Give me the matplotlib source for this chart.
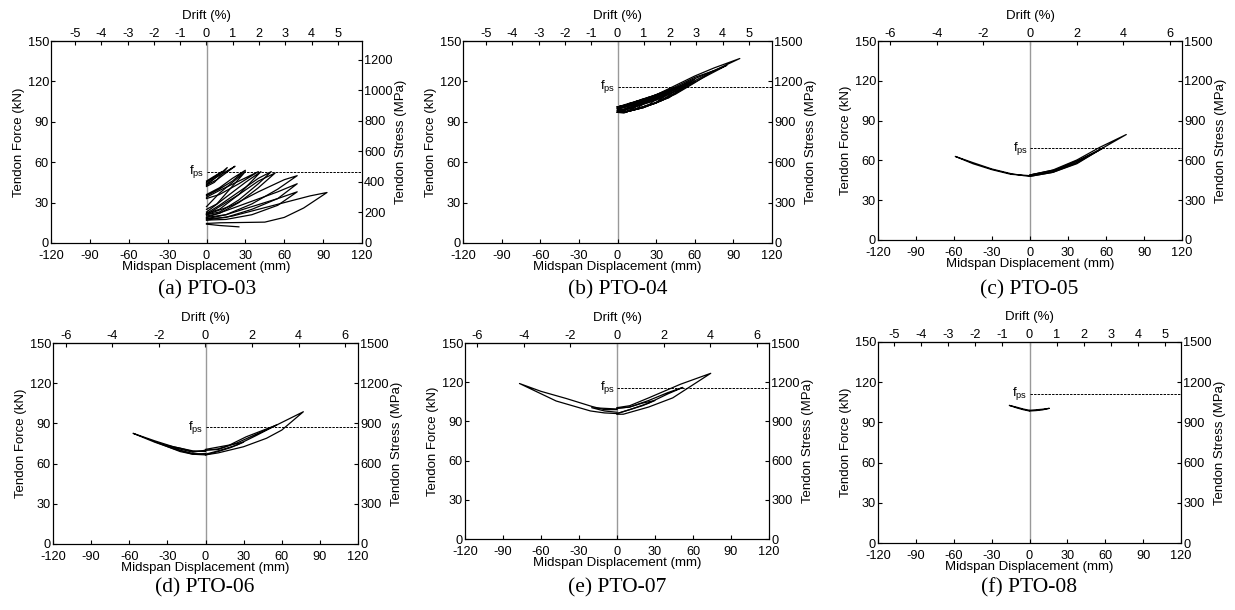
import matplotlib
matplotlib.use("Agg")
import matplotlib.pyplot as plt
import numpy as np

plt.rcParams['font.family'] = ['Liberation Sans', 'DejaVu Sans']
plt.rcParams['mathtext.fontset'] = 'custom'
plt.rcParams['mathtext.rm'] = 'Liberation Sans'
plt.rcParams['axes.unicode_minus'] = False

# ---------------- data (mm, kN) ----------------
captions = ["(a) PTO-03", "(b) PTO-04", "(c) PTO-05", "(d) PTO-06", "(e) PTO-07", "(f) PTO-08"]
fps_kN = [53, 116, 69, 87.3, 115.6, 111.3]
mm_per_drift = [20.3, 20.4, 18.4, 18.3, 18.4, 21.5]
stress_factor = [8.83, 10, 10, 10, 10, 10]
stress_ticks = [[0, 200, 400, 600, 800, 1000, 1200],
                [0, 300, 600, 900, 1200, 1500],
                [0, 300, 600, 900, 1200, 1500],
                [0, 300, 600, 900, 1200, 1500],
                [0, 300, 600, 900, 1200, 1500],
                [0, 300, 600, 900, 1200, 1500]]
drift_ticks = [[-5, -4, -3, -2, -1, 0, 1, 2, 3, 4, 5],
               [-5, -4, -3, -2, -1, 0, 1, 2, 3, 4, 5],
               [-6, -4, -2, 0, 2, 4, 6],
               [-6, -4, -2, 0, 2, 4, 6],
               [-6, -4, -2, 0, 2, 4, 6],
               [-5, -4, -3, -2, -1, 0, 1, 2, 3, 4, 5]]
disp_ticks = [-120, -90, -60, -30, 0, 30, 60, 90, 120]
force_ticks = [0, 30, 60, 90, 120, 150]

pto03_x = [
    [0, 10, 25],
    [0, 10, 25, 45, 60, 75, 93, 80, 60, 40, 20, 0],
    [0, 15, 35, 55, 70, 55, 35, 15, 0],
    [0, 15, 35, 55, 70, 55, 35, 15, 0],
    [0, 15, 35, 55, 70, 60, 40, 20, 0],
    [0, 10, 25, 40, 53, 40, 25, 10, 0],
    [0, 10, 25, 40, 50, 40, 25, 10, 0],
    [0, 10, 25, 35, 42, 30, 15, 0],
    [0, 8, 18, 30, 20, 10, 0],
    [0, 10, 25, 40, 25, 10, 0],
    [0, 10, 20, 30, 20, 10, 0],
    [0, 8, 15, 22, 15, 8, 0],
    [0, 6, 11, 16, 10, 5, 0],
    [0, 5, 12, 5, 0],
]
pto03_y = [
    [14, 13, 12],
    [14.5, 15, 15.2, 15.5, 19, 26, 37.5, 35, 30, 25, 20, 17],
    [17, 17.5, 21, 28, 38, 33, 27, 21, 18],
    [18, 19, 25, 33, 44, 38, 31, 24, 19],
    [19, 21, 29, 40, 50, 47, 38, 28, 21],
    [20, 22, 30, 41, 52, 46, 36, 27, 21],
    [21, 23, 32, 44, 53, 48, 38, 28, 22],
    [22, 25, 36, 46, 53, 45, 34, 23],
    [25, 29, 40, 53, 45, 37, 27],
    [33, 36, 44, 53, 46, 39, 34],
    [35, 40, 46, 54, 48, 41, 36],
    [43, 47, 52, 57, 53, 49, 44],
    [42, 45, 50, 56, 51, 47, 43],
    [45, 48, 53, 49, 46],
]

pto04_x = [
    [0, 5, 10, 5, 0],
    [0, 5, 10, 15, 10, 5, 0],
    [0, 5, 10, 20, 10, 5, 0],
    [0, 5, 12, 25, 15, 5, 0],
    [0, 5, 15, 30, 20, 10, 0],
    [0, 5, 15, 25, 35, 25, 15, 5, 0],
    [0, 5, 15, 30, 40, 30, 20, 10, 0],
    [0, 5, 15, 30, 45, 30, 15, 5, 0],
    [0, 5, 20, 35, 50, 35, 20, 5, 0],
    [0, 5, 20, 40, 55, 40, 20, 5, 0],
    [0, 5, 20, 40, 60, 45, 30, 15, 0],
    [0, 5, 15, 30, 45, 60, 75, 60, 45, 30, 15, 0],
    [0, 5, 15, 30, 45, 60, 75, 85, 70, 55, 40, 25, 10, 0],
    [0, 5, 15, 30, 45, 60, 75, 95, 75, 60, 45, 30, 15, 0],
    [0, 5, 15, 30, 45, 60, 45, 30, 15, 5, 0],
    [0, 5, 15, 30, 45, 55, 45, 30, 15, 5, 0],
    [0, 5, 15, 30, 45, 30, 15, 5, 0],
    [0, 5, 15, 30, 40, 30, 15, 5, 0],
    [0, 5, 15, 25, 35, 25, 15, 5, 0],
    [0, 5, 15, 30, 15, 5, 0],
    [0, 5, 15, 25, 15, 5, 0],
    [0, 5, 10, 20, 10, 5, 0],
]
pto04_y = [
    [97.5, 97, 104, 101, 100],
    [97.5, 97, 99, 105.5, 103, 101.5, 100.5],
    [97, 96.5, 98.5, 107, 103.5, 102, 101],
    [97, 97, 99.5, 108.5, 105, 102, 101],
    [97, 97, 100, 109.5, 106.5, 103.5, 101],
    [97, 97, 99.5, 103, 111, 108, 105, 102, 101],
    [97, 97, 99.5, 104, 113, 109.5, 106.5, 104, 101],
    [97, 97, 99.5, 104, 115, 110, 105, 102, 101],
    [97, 97, 100.5, 106, 117, 112, 106.5, 102, 101],
    [97, 97, 100.5, 108, 119, 113, 107, 102, 101],
    [97, 97, 100.5, 108, 121.5, 115, 109.5, 104.5, 101],
    [97, 97, 99.5, 104, 110.5, 119, 128, 123, 116, 110, 104, 101],
    [97, 97, 99.5, 104, 111, 119.5, 127, 132, 126, 120, 112, 106, 102, 101],
    [97, 97, 99.5, 104.5, 111.5, 120.5, 128, 137, 130, 124, 117, 110, 104, 101],
    [98, 98.5, 101.5, 106, 112.5, 120, 114, 107.5, 103, 100.5, 99.5],
    [98, 98.5, 101.5, 106.5, 113, 118, 114.5, 108, 103.5, 101, 100],
    [98.5, 99, 102, 107, 114, 109, 104, 101.5, 100],
    [98.5, 99, 102.5, 107.5, 112, 108.5, 104.5, 101, 100],
    [98.5, 99, 102.5, 106, 110, 107, 104, 101, 100],
    [98, 98.5, 102, 108.5, 104.5, 101, 99.5],
    [99, 99.5, 102.5, 107, 104, 101.5, 100],
    [98.5, 99, 100.5, 105, 102.5, 101, 100],
]

pto05_x = [
    [0, -15, -30, -45, -59, -45, -30, -15, -5, 0],
    [0, 18, 37, 55, 40, 20, 0],
    [0, 18, 37, 58, 40, 20, 0],
    [0, 18, 37, 55, 76, 55, 37, 18, 0],
]
pto05_y = [
    [48.5, 49.5, 53, 57.5, 63, 58.3, 53.5, 50, 48.5, 48],
    [48.5, 51.5, 58.5, 68, 61, 53, 49],
    [48, 51, 58, 69.5, 60.5, 52.5, 49],
    [48, 51, 57.5, 68, 79.5, 69.8, 60.3, 52.7, 49],
]

pto06_x = [
    [0, -10, -25, -40, -57, -40, -25, -10, 0],
    [0, -10, -20, -30, -20, -10, 0],
    [0, -10, -20, -40, -25, -10, 0],
    [0, 10, 20, 30, 20, 10, 0],
    [0, 10, 25, 40, 56, 40, 25, 10, 0],
    [0, 10, 30, 48, 60, 77, 56, 32, 19, 0],
]
pto06_y = [
    [67.5, 67, 71, 76, 82.6, 77, 72.5, 69.5, 69],
    [67, 67.5, 70, 73.5, 71.5, 69, 69.5],
    [66.5, 67, 69, 76.4, 72, 68.5, 70],
    [66.5, 69, 72, 76, 74, 70.5, 70],
    [67, 69.5, 74, 81, 88.8, 82, 75.5, 71, 70],
    [66.5, 68, 72.6, 78.9, 85, 98.7, 88.8, 80, 73.9, 70.6],
]

pto07_x = [
    [0, -10, -21, -48, -77, -60, -40, -20, -10, 0],
    [0, -10, -20, -10, 0],
    [0, 10, 20, 30, 20, 10, 0],
    [0, 5, 25, 44, 74, 50, 25, 10, 0],
    [0, 10, 25, 40, 52, 40, 25, 10, 0],
]
pto07_y = [
    [96, 96.5, 98, 105.6, 119, 113, 107.5, 101.5, 99, 99],
    [97, 98, 100.5, 100, 99.5],
    [96, 99, 102, 106, 104, 101, 100],
    [95.5, 95.5, 101, 108, 126.8, 118.4, 108, 102, 100.5],
    [96, 99, 104, 111, 116, 112, 106, 101, 100],
]

pto08_x = [
    [0, -5, -10, -16, -10, -5, 0],
    [0, 5, 10, 15.7, 10, 5, 0],
]
pto08_y = [
    [98.5, 99.5, 100.8, 102.7, 101.3, 100, 99],
    [98.5, 98.8, 99.3, 100.5, 99.8, 99.4, 99],
]

all_x = [pto03_x, pto04_x, pto05_x, pto06_x, pto07_x, pto08_x]
all_y = [pto03_y, pto04_y, pto05_y, pto06_y, pto07_y, pto08_y]

# ---------------- layout ----------------
W, H = 1235, 610
boxes = [  # left, top, right, bottom in pixels
    (51, 41, 362, 243),
    (463, 41, 772, 243),
    (878, 41, 1182, 240),
    (53, 343, 358, 544),
    (465, 343, 769, 539),
    (878, 342, 1181, 543),
]
caption_xy = [(207, 290), (618, 290), (1029, 290), (205, 588), (617, 588), (1029, 588)]

fig = plt.figure(figsize=(W / 100, H / 100), dpi=100)
fs_tick = 9.2
fs_lab = 9.5
for i in range(6):
    l, t, r, b = boxes[i]
    ax = fig.add_axes([l / W, 1 - b / H, (r - l) / W, (b - t) / H])
    ax.set_xlim(-120, 120)
    ax.set_ylim(0, 150)
    ax.set_xticks(disp_ticks)
    ax.set_yticks(force_ticks)
    ax.tick_params(direction='in', length=3, width=0.8, labelsize=fs_tick)
    ax.tick_params(axis='x', pad=5)
    ax.tick_params(axis='y', pad=1.5)
    for s in ax.spines.values():
        s.set_linewidth(0.8)
    ax.axvline(0, color='#999999', lw=1.0, zorder=1)
    for xs, ys in zip(all_x[i], all_y[i]):
        ax.plot(xs, ys, color='black', lw=0.9, zorder=3)
    ax.plot([0, 120], [fps_kN[i], fps_kN[i]], color='black', lw=0.7, ls=(0, (2.5, 1.2)), zorder=2)
    ax.text(-1.5, fps_kN[i], r'f$_{\rm ps}$', ha='right', va='center', fontsize=fs_lab)
    ax.set_xlabel('Midspan Displacement (mm)', fontsize=fs_lab, labelpad=-1)
    ax.set_ylabel('Tendon Force (kN)', fontsize=fs_lab, labelpad=2)

    k = mm_per_drift[i]
    sec = ax.secondary_xaxis('top', functions=(lambda x, k=k: x / k, lambda d, k=k: d * k))
    sec.set_xticks(drift_ticks[i])
    sec.tick_params(direction='in', length=3, width=0.8, labelsize=fs_tick, pad=1)
    sec.set_xlabel('Drift (%)', fontsize=fs_lab, labelpad=6)

    f = stress_factor[i]
    ax2 = ax.twinx()
    ax2.set_ylim(0, 150 * f)
    ax2.set_yticks(stress_ticks[i])
    ax2.tick_params(direction='in', length=3, width=0.8, labelsize=fs_tick, pad=1.5)
    ax2.set_ylabel('Tendon Stress (MPa)', fontsize=fs_lab, labelpad=2)

    cx, cy = caption_xy[i]
    fig.text(cx / W, 1 - cy / H, captions[i], ha='center', va='center',
             fontsize=15.5, family='Liberation Serif')

fig.savefig('out.png', dpi=100)
